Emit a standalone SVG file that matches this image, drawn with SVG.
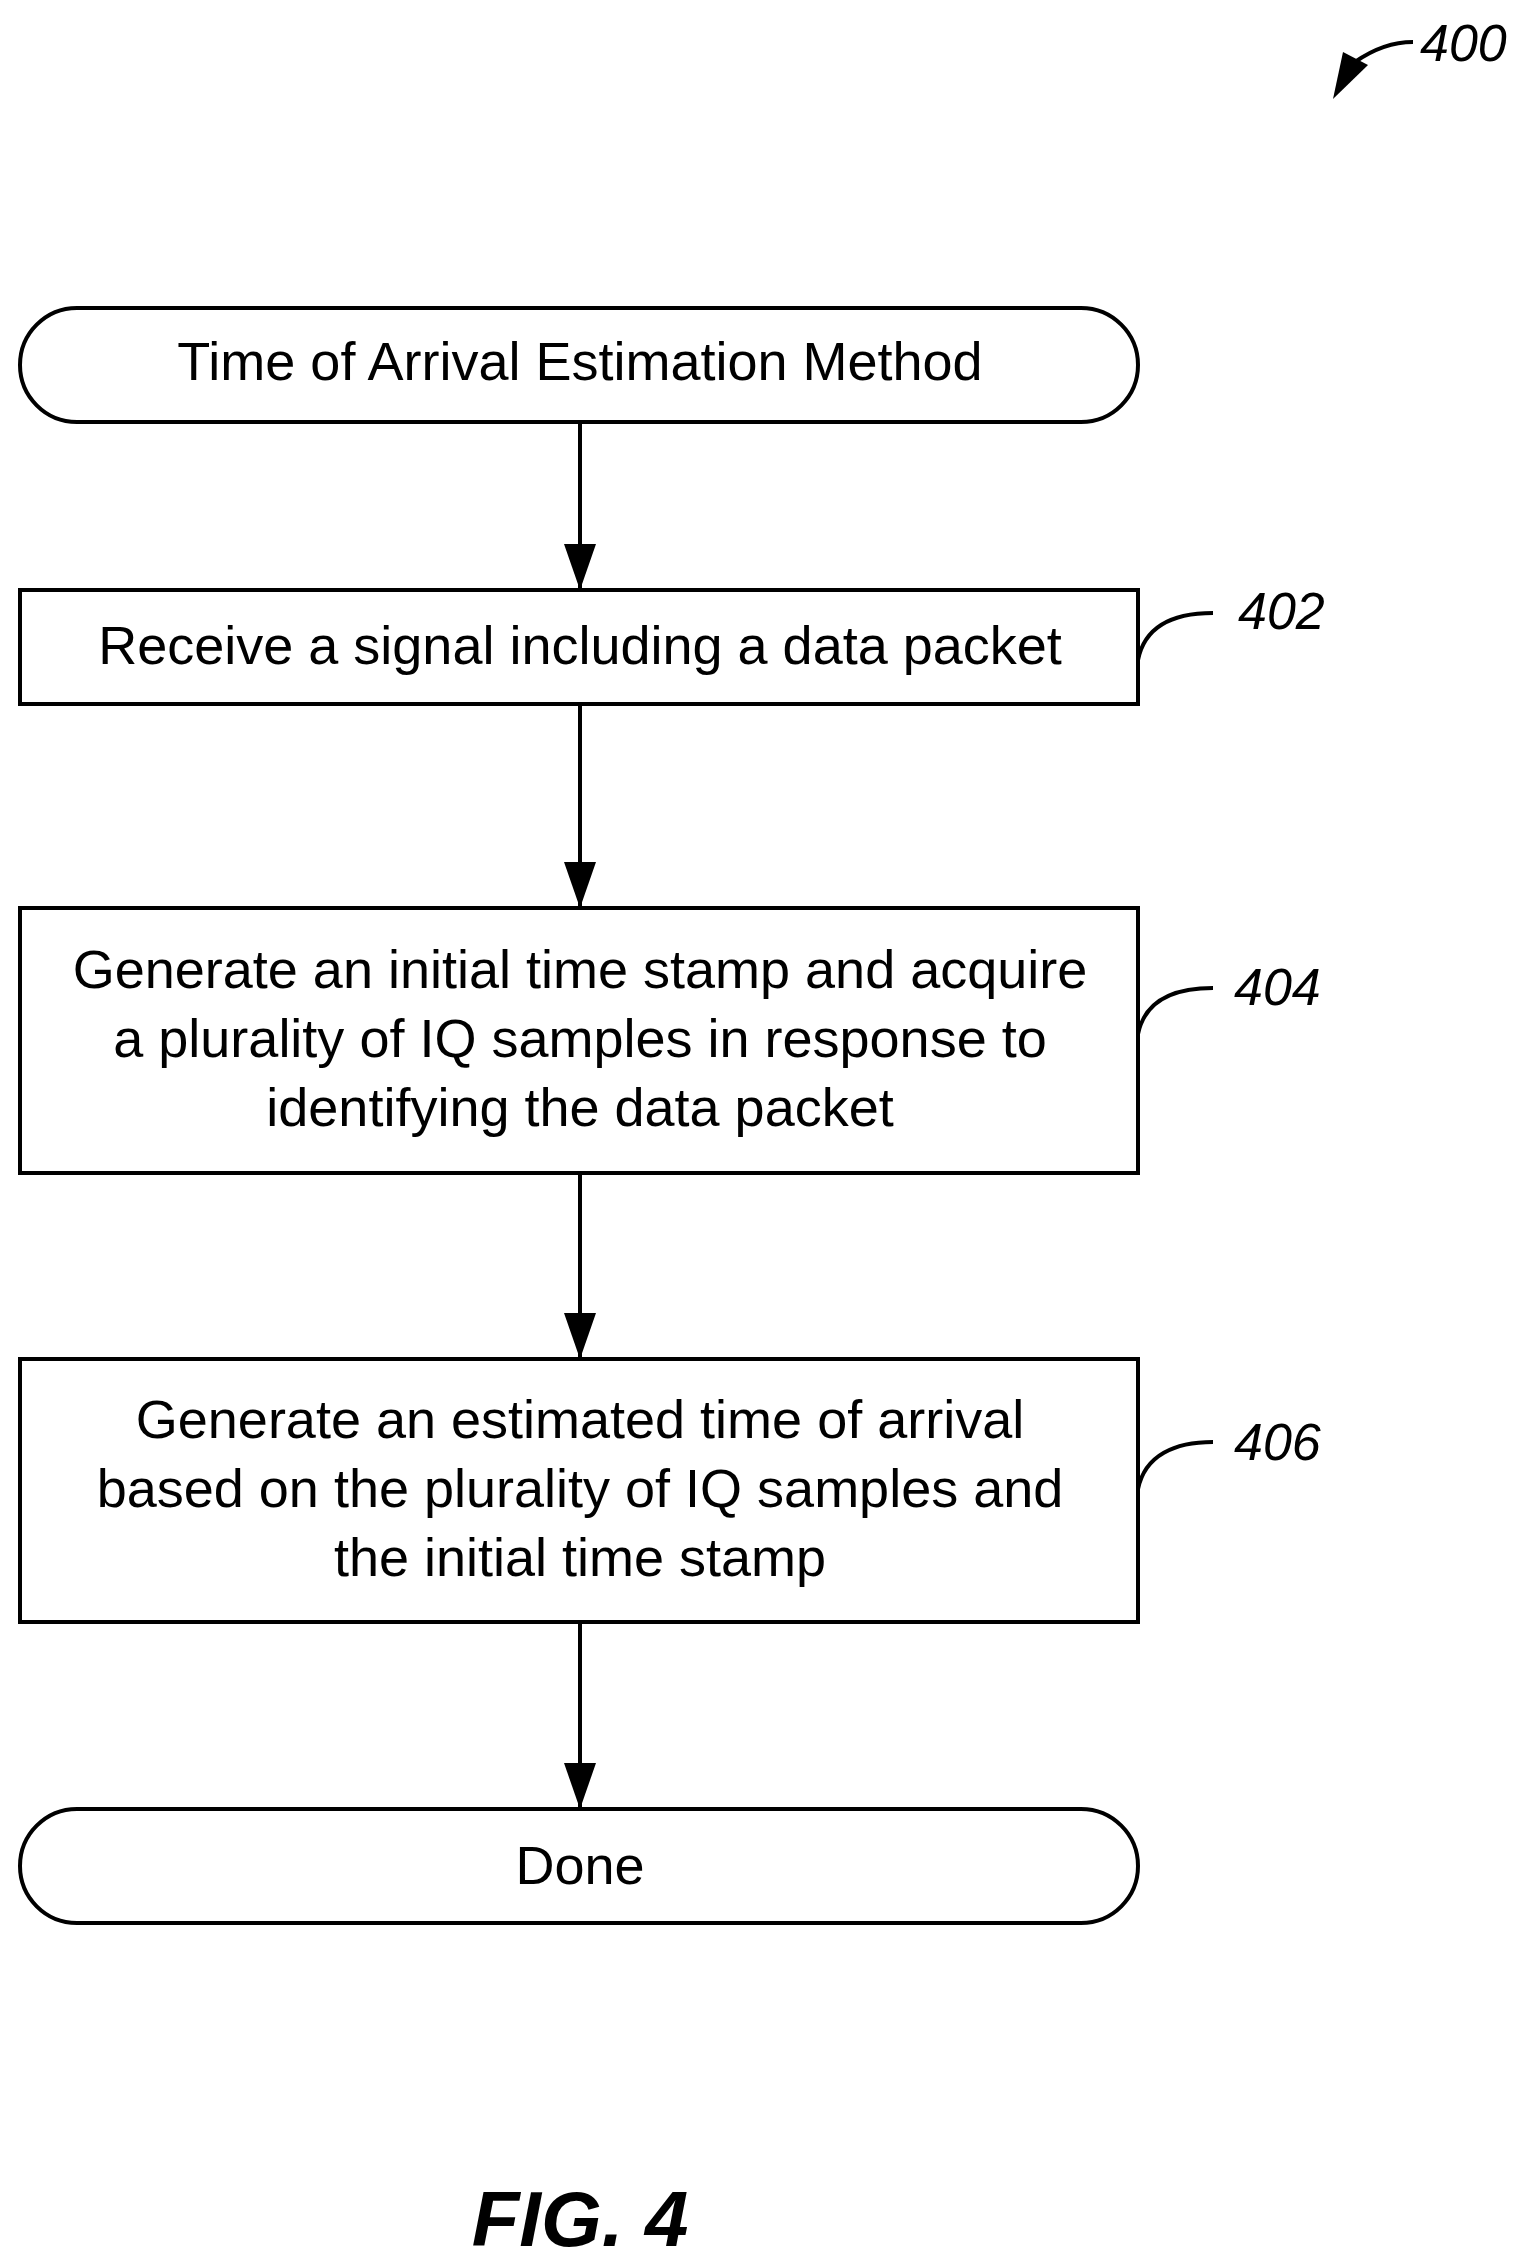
<svg xmlns="http://www.w3.org/2000/svg" width="1538" height="2265" viewBox="0 0 1538 2265">
<style>
.n{fill:#fff;stroke:#000;stroke-width:4}
.t{font-family:"Liberation Sans",Arial,sans-serif;font-size:54px;text-anchor:middle;fill:#000}
.r{font-family:"Liberation Sans",Arial,sans-serif;font-size:52px;font-style:italic;fill:#000}
.c{fill:none;stroke:#000;stroke-width:4}
</style>
<defs>
<marker id="a" markerWidth="10" markerHeight="14" refX="10" refY="7" orient="auto" markerUnits="userSpaceOnUse" viewBox="0 0 10 14"><path d="M0,0 L10,7 L0,14 Z"/></marker>
<marker id="ah" viewBox="0 0 46 32" markerWidth="46" markerHeight="32" refX="46" refY="16" orient="auto" markerUnits="userSpaceOnUse"><path d="M0,0 L46,16 L0,32 Z"/></marker>
</defs>
<rect width="1538" height="2265" fill="#fff"/>
<g id="connectors">
<line class="c" x1="580" y1="422" x2="580" y2="590" marker-end="url(#ah)"/>
<line class="c" x1="580" y1="704" x2="580" y2="908" marker-end="url(#ah)"/>
<line class="c" x1="580" y1="1173" x2="580" y2="1359" marker-end="url(#ah)"/>
<line class="c" x1="580" y1="1622" x2="580" y2="1809" marker-end="url(#ah)"/>
</g>
<g id="start"><rect class="n" x="20" y="308" width="1118" height="114" rx="57"/><text class="t" x="580" y="380">Time of Arrival Estimation Method</text></g>
<g id="n402"><rect class="n" x="20" y="590" width="1118" height="114"/><text class="t" x="580" y="664">Receive a signal including a data packet</text>
<path class="c" d="M1138,660 C1145,625 1175,613 1213,613"/><text class="r" x="1238" y="629">402</text></g>
<g id="n404"><rect class="n" x="20" y="908" width="1118" height="265"/>
<text class="t" x="580" y="988">Generate an initial time stamp and acquire</text>
<text class="t" x="580" y="1057">a plurality of IQ samples in response to</text>
<text class="t" x="580" y="1126">identifying the data packet</text>
<path class="c" d="M1138,1034 C1145,1000 1175,988 1213,988"/><text class="r" x="1234" y="1005">404</text></g>
<g id="n406"><rect class="n" x="20" y="1359" width="1118" height="263"/>
<text class="t" x="580" y="1438">Generate an estimated time of arrival</text>
<text class="t" x="580" y="1507">based on the plurality of IQ samples and</text>
<text class="t" x="580" y="1576">the initial time stamp</text>
<path class="c" d="M1138,1489 C1145,1455 1175,1442 1213,1442"/><text class="r" x="1234" y="1460">406</text></g>
<g id="done"><rect class="n" x="20" y="1809" width="1118" height="114" rx="57"/><text class="t" x="580" y="1884">Done</text></g>
<g id="ref400"><path class="c" d="M1413,42 C1395,42 1375,48 1355,62"/><path d="M1333,99 L1343,52 L1368,65 Z"/><text class="r" x="1420" y="61">400</text></g>
<text x="580" y="2246" text-anchor="middle" style="font-family:'Liberation Sans',Arial,sans-serif;font-size:78px;font-weight:bold;font-style:italic">FIG. 4</text>
</svg>
